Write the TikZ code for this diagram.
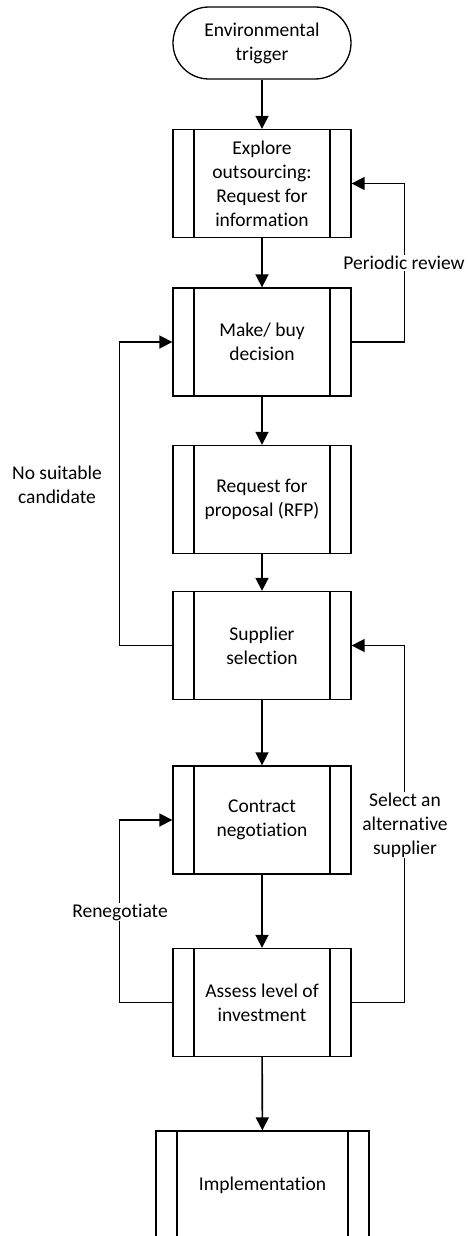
\documentclass[tikz,border=0pt]{standalone}
\usepackage{fontspec}
\setmainfont{Carlito}[Ligatures=NoCommon]
\usepackage{tikz}
\usetikzlibrary{arrows.meta}

\begin{document}
\begin{tikzpicture}[x = 1pt, y = -1pt, font = \fontsize{19.5pt}{24pt}\selectfont]
				    \tikzstyle{edge}=[draw,line width = 1.6pt,-{Triangle[length=13pt,width=13pt]},black!100]
				    \tikzstyle{terminal}=[draw,line width = 1.3pt,rounded corners=36pt,minimum width=178pt,minimum height=72pt,align=center,inner sep=0pt]
				    \tikzstyle{process}=[draw,line width = 1.3pt,minimum width=178pt,minimum height=108pt,align=center,inner sep=0pt,
				        path picture={\draw[line width = 1.3pt] ([xshift=21pt]path picture bounding box.north west) -- ([xshift=21pt]path picture bounding box.south west);
				        \draw[line width = 1.3pt] ([xshift=-21pt]path picture bounding box.north east) -- ([xshift=-21pt]path picture bounding box.south east);}]
				    \tikzstyle{lbl}=[fill=white,align=center,inner sep=1pt]
				    \useasboundingbox (0,0) rectangle (468,1236);
				    \clip (0,0) rectangle (468,1236);
				    \node[terminal] (trigger) at (262,43) {Environmental\\trigger};
				    \node[process] (explore) at (262,183.5) {Explore\\outsourcing:\\Request for\\information};
				    \node[process] (makebuy) at (262,342) {Make/ buy\\decision};
				    \node[process] (rfp) at (262,499.5) {Request for\\proposal (RFP)};
				    \node[process] (selection) at (262,645.5) {Supplier\\selection};
				    \node[process] (contract) at (262,820) {Contract\\negotiation};
				    \node[process] (assess) at (262,1002.5) {Assess level of\\investment};
				    \node[process,minimum width=213pt] (implement) at (262.5,1185) {Implementation};
				    \draw[edge] (trigger) -- (explore);
				    \draw[edge] (explore) -- (makebuy);
				    \draw[edge] (makebuy) -- (rfp);
				    \draw[edge] (rfp) -- (selection);
				    \draw[edge] (selection) -- (contract);
				    \draw[edge] (contract) -- (assess);
				    \draw[edge] (assess) -- (implement);
				    \draw[edge] (makebuy.east) -- ++(53,0) |- (explore.east);
				    \draw[edge] (selection.west) -- ++(-53,0) |- (makebuy.west);
				    \draw[edge] (assess.east) -- ++(53,0) |- (selection.east);
				    \draw[edge] (assess.west) -- ++(-53,0) |- (contract.west);
				    \node[lbl] (review) at (404,263) {Periodic review};
				    \node[align=center] (nocand) at (57,485) {No suitable\\candidate};
				    \node[lbl] (altsupp) at (405,825) {Select an\\alternative\\supplier};
				    \node[lbl] (reneg) at (120,912) {Renegotiate};
				\end{tikzpicture}
\end{document}
